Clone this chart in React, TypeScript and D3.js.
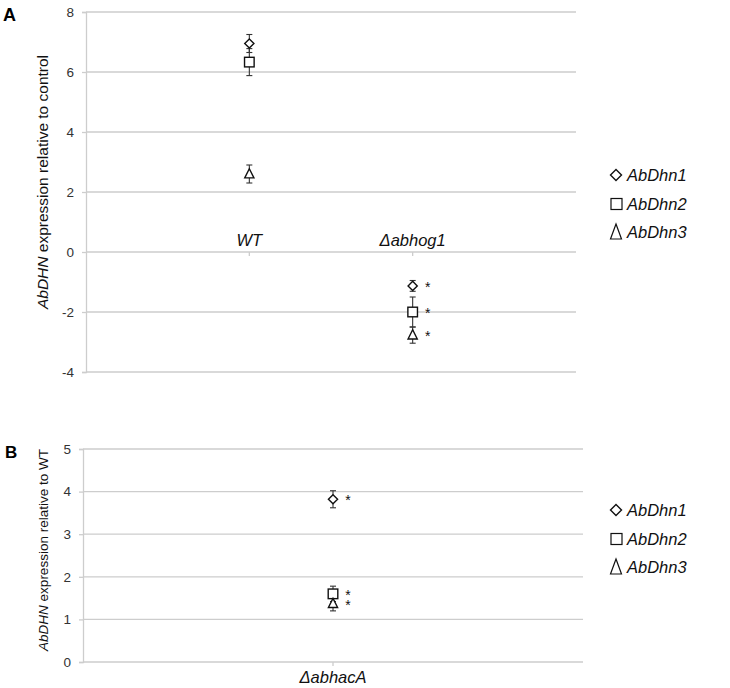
import React, { useEffect, useRef } from "react";
import * as d3 from "d3";

// panel A: expression relative to control
const catsA = ["WT", "Δabhog1"];
const ticksA = [-4, -2, 0, 2, 4, 6, 8];
const dhn1A = [6.95, -1.13];
const dhn1AErr = [0.3, 0.18];
const dhn2A = [6.33, -2.0];
const dhn2AErr = [0.45, 0.5];
const dhn3A = [2.6, -2.77];
const dhn3AErr = [0.3, 0.27];
const sigA = [false, true];

// panel B: expression relative to WT
const catsB = ["ΔabhacA"];
const ticksB = [0, 1, 2, 3, 4, 5];
const dhn1B = [3.82];
const dhn1BErr = [0.2];
const dhn2B = [1.6];
const dhn2BErr = [0.18];
const dhn3B = [1.37];
const dhn3BErr = [0.17];
const sigB = [true];

const genes = ["AbDhn1", "AbDhn2", "AbDhn3"];
const shapes = ["diamond", "square", "triangle"];

const FONT = "'Liberation Sans', Arial, sans-serif";
const GRID = "#cdcdcd";

function marker(g, shape, x, y, s) {
  if (shape === "diamond") {
    g.append("path")
      .attr("d", `M${x},${y - s}L${x + s},${y}L${x},${y + s}L${x - s},${y}Z`)
      .attr("fill", "white").attr("stroke", "#111").attr("stroke-width", 1.4);
  } else if (shape === "square") {
    g.append("rect")
      .attr("x", x - s).attr("y", y - s).attr("width", 2 * s).attr("height", 2 * s)
      .attr("fill", "white").attr("stroke", "#111").attr("stroke-width", 1.4);
  } else {
    g.append("path")
      .attr("d", `M${x},${y - s * 1.15}L${x + s},${y + s * 0.85}L${x - s},${y + s * 0.85}Z`)
      .attr("fill", "white").attr("stroke", "#111").attr("stroke-width", 1.4);
  }
}

function drawPanel(svg, opt) {
  const { cats, ticks, series, errs, sig, left, right, top, bottom, domain, zeroAxis } = opt;
  const g = svg.append("g");
  const y = d3.scaleLinear().domain(domain).range([bottom, top]);
  const x = d3.scalePoint().domain(cats).range([left, right]).padding(cats.length > 1 ? 1 : 0.5);

  // gridlines
  g.selectAll(".grid").data(ticks).enter().append("line")
    .attr("x1", left).attr("x2", right)
    .attr("y1", (d) => y(d)).attr("y2", (d) => y(d))
    .attr("stroke", GRID).attr("stroke-width", 1.3);

  // y axis
  const yAxis = d3.axisLeft(y).tickValues(ticks).tickSize(4).tickPadding(8).tickFormat((d) => String(d));
  const ya = g.append("g").attr("transform", `translate(${left},0)`).call(yAxis);
  ya.select(".domain").attr("stroke", GRID).attr("stroke-width", 1.3);
  ya.selectAll(".tick line").attr("stroke", GRID).attr("stroke-width", 1.3);
  ya.selectAll(".tick text").attr("font-family", FONT).attr("font-size", 13.5).attr("fill", "#333");

  // category axis
  const ax = zeroAxis ? y(0) : bottom;
  g.selectAll(".ctick").data(cats).enter().append("line")
    .attr("x1", (d) => x(d)).attr("x2", (d) => x(d))
    .attr("y1", ax).attr("y2", ax + 4)
    .attr("stroke", GRID).attr("stroke-width", 1.3);
  g.selectAll(".clab").data(cats).enter().append("text")
    .attr("x", (d) => x(d))
    .attr("y", zeroAxis ? ax - 6 : ax + 21)
    .attr("text-anchor", "middle")
    .attr("font-family", FONT).attr("font-size", 16.5).attr("font-style", "italic")
    .attr("fill", "#111")
    .text((d) => d);

  // error bars
  series.forEach((vals, si) => {
    vals.forEach((v, i) => {
      const cx = x(cats[i]);
      const e = errs[si][i];
      const eg = g.append("g").attr("stroke", "#333").attr("stroke-width", 1.1);
      eg.append("line").attr("x1", cx).attr("x2", cx).attr("y1", y(v + e)).attr("y2", y(v - e));
      eg.append("line").attr("x1", cx - 3).attr("x2", cx + 3).attr("y1", y(v + e)).attr("y2", y(v + e));
      eg.append("line").attr("x1", cx - 3).attr("x2", cx + 3).attr("y1", y(v - e)).attr("y2", y(v - e));
    });
  });
  // markers and significance
  series.forEach((vals, si) => {
    vals.forEach((v, i) => {
      const cx = x(cats[i]);
      marker(g, shapes[si], cx, y(v), si === 1 ? 4.8 : 4.6);
      if (sig[i]) {
        g.append("text")
          .attr("x", cx + 15).attr("y", y(v) + 6)
          .attr("font-family", FONT).attr("font-size", 14)
          .attr("fill", "#111").attr("text-anchor", "middle")
          .text("*");
      }
    });
  });
}

function legend(svg, top) {
  const g = svg.append("g");
  genes.forEach((name, i) => {
    const cy = top + i * 28.5;
    if (shapes[i] === "diamond") {
      g.append("path").attr("d", `M616,${cy - 5.5}L621.5,${cy}L616,${cy + 5.5}L610.5,${cy}Z`)
        .attr("fill", "white").attr("stroke", "#111").attr("stroke-width", 1.4);
    } else if (shapes[i] === "square") {
      g.append("rect").attr("x", 611).attr("y", cy - 5).attr("width", 11).attr("height", 11)
        .attr("fill", "white").attr("stroke", "#111").attr("stroke-width", 1.2);
    } else {
      g.append("path").attr("d", `M616,${cy - 8}L621.5,${cy + 7}L610.5,${cy + 7}Z`)
        .attr("fill", "white").attr("stroke", "#111").attr("stroke-width", 1.2);
    }
    g.append("text")
      .attr("x", 627).attr("y", cy + 6)
      .attr("font-family", FONT).attr("font-size", 16.5).attr("font-style", "italic")
      .attr("fill", "#111")
      .text(name);
  });
}

function yTitle(svg, cx, cy, size, rest) {
  const t = svg.append("text")
    .attr("transform", `translate(${cx},${cy}) rotate(-90)`)
    .attr("text-anchor", "middle")
    .attr("font-family", FONT).attr("font-size", size).attr("fill", "#111");
  t.append("tspan").attr("font-style", "italic").text("AbDHN");
  t.append("tspan").text(rest);
}

export default function App() {
  const svgRef = useRef(null);
  useEffect(() => {
    const svg = d3.select(svgRef.current);
    svg.selectAll("*").remove();

    svg.append("text").attr("x", 3).attr("y", 21)
      .attr("font-family", FONT).attr("font-size", 18).attr("font-weight", "bold").text("A");
    svg.append("text").attr("x", 5).attr("y", 458)
      .attr("font-family", FONT).attr("font-size", 17).attr("font-weight", "bold").text("B");

    drawPanel(svg, {
      cats: catsA, ticks: ticksA, domain: [-4, 8],
      series: [dhn1A, dhn2A, dhn3A], errs: [dhn1AErr, dhn2AErr, dhn3AErr], sig: sigA,
      left: 86, right: 576, top: 12, bottom: 372, zeroAxis: true,
    });
    drawPanel(svg, {
      cats: catsB, ticks: ticksB, domain: [0, 5],
      series: [dhn1B, dhn2B, dhn3B], errs: [dhn1BErr, dhn2BErr, dhn3BErr], sig: sigB,
      left: 83, right: 583, top: 449, bottom: 662, zeroAxis: false,
    });

    yTitle(svg, 48, 182, 15.5, " expression relative to control");
    yTitle(svg, 48, 550, 13.5, " expression relative to WT");

    legend(svg, 175);
    legend(svg, 510);
  }, []);

  return (
    <svg ref={svgRef} width={730} height={688}
      style={{ position: "absolute", left: 0, top: 0, background: "white" }} />
  );
}
